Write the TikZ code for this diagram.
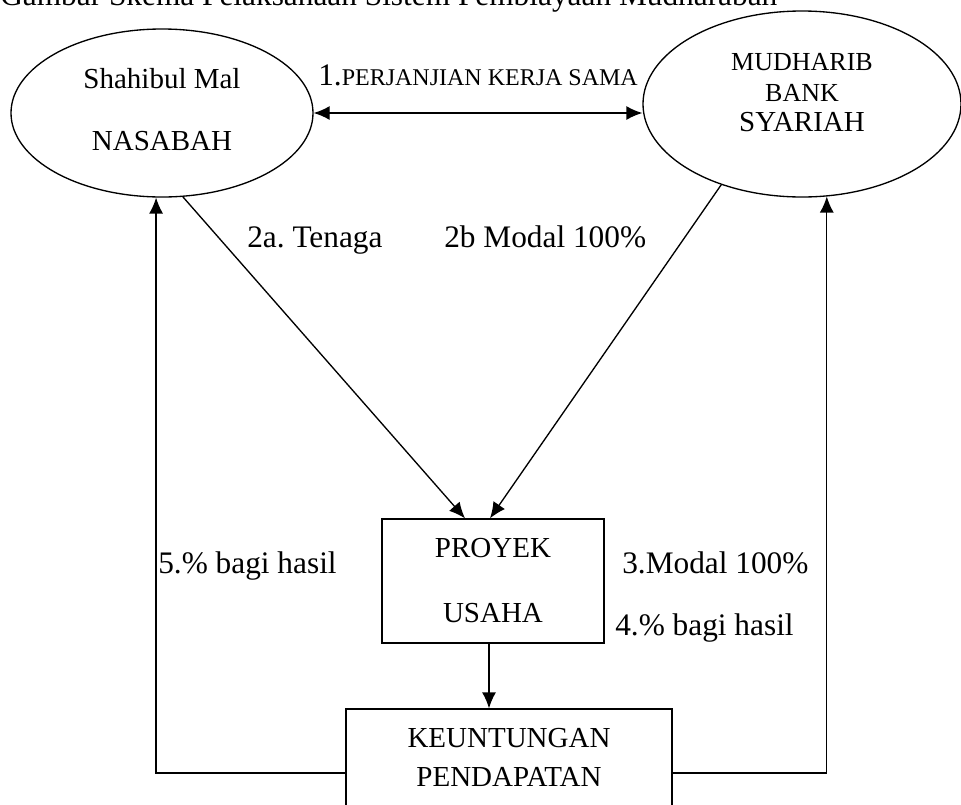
\documentclass[tikz,border=0pt]{standalone}
\usepackage{fontspec}
\setmainfont{Liberation Serif}
\usetikzlibrary{shapes,arrows.meta}
\frenchspacing
\newcommand{\lbl}[4]{node[note,anchor=base west](#1) at (#2) {#4}}

\begin{document}
\begin{tikzpicture}[
      x=0.75pt, y=-0.75pt,
      party/.style={ellipse,draw=black,line width=1pt,inner sep=0pt,align=center},
      unit/.style={rectangle,draw=black,line width=1pt,inner sep=0pt,align=center},
      note/.style={inner sep=0pt,font=\fontsize{23.5}{28}\selectfont},
      pointer/.style={line width=1pt,-{Latex[length=12pt,width=10.5pt]},draw=black},
      dpointer/.style={line width=1pt,{Latex[length=12pt,width=10.5pt]}-{Latex[length=12pt,width=10.5pt]},draw=black}
      ]
      \useasboundingbox (0,0) rectangle (961,804);
      \node[party,minimum width=226.5pt,minimum height=126pt,text depth=6pt,
        font=\fontsize{21.75}{46.5}\selectfont] (nasabah) at (162,113) {Shahibul Mal\\NASABAH};
      \node[party,minimum width=238.5pt,minimum height=139.5pt,text depth=17.25pt,
        font=\fontsize{19.5}{23}\selectfont] (bank) at (802,104)
        {MUDHARIB\\BANK\\{\fontsize{21.75}{23}\selectfont SYARIAH}};
      \node[unit,minimum width=166.5pt,minimum height=93pt,
        font=\fontsize{21.75}{48.75}\selectfont] (proyek) at (493,581) {PROYEK\\USAHA};
      \node[unit,minimum width=244.5pt,minimum height=72.75pt,
        font=\fontsize{21.75}{29.25}\selectfont] (untung) at (509,757.5) {KEUNTUNGAN\\PENDAPATAN};
      \path \lbl{judul}{0,5}{}{Gambar Skema Pelaksanaan Sistem Pembiayaan Mudharabah};
      \path \lbl{akad}{318,85}{}{1.{\fontsize{18}{20}\selectfont PERJANJIAN KERJA SAMA}};
      \path \lbl{tenaga}{247,247}{}{2a. Tenaga};
      \path \lbl{modal}{444,247}{}{2b Modal 100\%};
      \path \lbl{hasilkiri}{158,573}{}{5.\% bagi hasil};
      \path \lbl{modalkanan}{622,573}{}{3.Modal 100\%};
      \path \lbl{hasilkanan}{615,635}{}{4.\% bagi hasil};
      \draw[dpointer] (nasabah.east) -- (nasabah.east -| bank.west);
      \draw[pointer] (nasabah.-76.5) -- ([xshift=-21pt]proyek.north);
      \draw[pointer] (bank.-135.8) -- ([xshift=-2.25pt]proyek.north);
      \draw[pointer] ([xshift=-3pt]proyek.south) -- ([xshift=-3pt]proyek.south |- untung.north);
      \draw[pointer] ([yshift=-11.6pt]untung.west) -| (nasabah.-94.1);
      \draw[pointer] ([yshift=-11.6pt]untung.east) -| (bank.-75.4);
    \end{tikzpicture}
\end{document}
